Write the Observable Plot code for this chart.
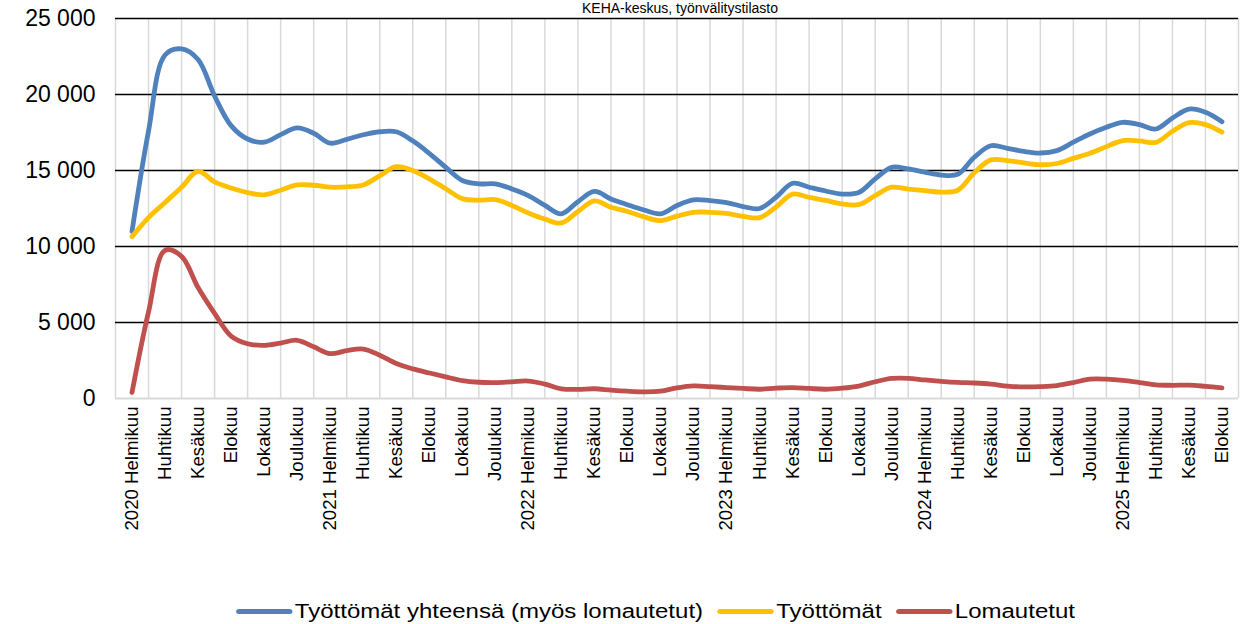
<!DOCTYPE html>
<html><head><meta charset="utf-8">
<script src="https://cdn.jsdelivr.net/npm/d3@7"></script>
<script src="https://cdn.jsdelivr.net/npm/@observablehq/plot@0.6"></script>
<style>
body{margin:0;background:#fff;font-family:"Liberation Sans",Arial,sans-serif;}
#wrap{position:relative;width:1241px;height:624px;overflow:hidden;background:#fff;}
#title{position:absolute;top:0px;left:0;width:1360px;text-align:center;font-size:14px;line-height:16px;color:#000;white-space:nowrap;}
#chart{position:absolute;top:0;left:0;}
#legend{position:absolute;top:596px;left:35px;width:1241px;height:30px;display:flex;justify-content:center;align-items:center;transform:scaleX(1.2);transform-origin:center;font-size:20px;color:#000;white-space:nowrap;}
.item{display:flex;align-items:center;margin:0 6px;}
.sw{width:47px;height:5px;border-radius:3px;margin-right:2px;}
</style>
</head><body>
<div id="wrap">
<div id="chart"></div>
<div id="title">KEHA-keskus, työnvälitystilasto</div>
<div id="legend"></div>
</div>
<script>
// Monthly values, Feb 2020 – Aug 2025 (one array per year)
const yhteensa2020 = [11000, 17600, 22600, 23000, 22300, 19900, 17950, 17070, 16860, 17360, 17800];
const yhteensa2021 = [17450, 16800, 17050, 17350, 17550, 17550, 16950, 16130, 15210, 14340, 14120, 14120];
const yhteensa2022 = [13790, 13350, 12700, 12150, 12950, 13620, 13130, 12750, 12400, 12150, 12700, 13070];
const yhteensa2023 = [13020, 12890, 12630, 12500, 13240, 14160, 13900, 13650, 13450, 13550, 14450, 15210];
const yhteensa2024 = [15100, 14890, 14700, 14750, 15870, 16630, 16460, 16260, 16150, 16310, 16860, 17400];
const yhteensa2025 = [17840, 18170, 18020, 17730, 18450, 19040, 18830, 18210];

const tyottomat2020 = [10650, 11900, 12900, 13900, 14950, 14250, 13850, 13550, 13400, 13700, 14050];
const tyottomat2021 = [14030, 13900, 13920, 14050, 14650, 15250, 15000, 14450, 13800, 13150, 13050, 13080];
const tyottomat2022 = [12700, 12200, 11800, 11550, 12300, 13000, 12580, 12300, 11950, 11700, 12000, 12250];
const tyottomat2023 = [12250, 12180, 11980, 11900, 12600, 13450, 13230, 13030, 12800, 12750, 13350, 13900];
const tyottomat2024 = [13780, 13670, 13580, 13700, 14850, 15700, 15650, 15500, 15380, 15460, 15800, 16130];
const tyottomat2025 = [16570, 16970, 16950, 16850, 17580, 18150, 18020, 17520];

const lomautetut2020 = [400, 5700, 9750, 9350, 7300, 5600, 4100, 3600, 3500, 3650, 3830];
const lomautetut2021 = [3400, 2950, 3150, 3250, 2850, 2300, 1950, 1680, 1420, 1180, 1070, 1050];
const lomautetut2022 = [1100, 1150, 950, 640, 600, 640, 550, 480, 440, 480, 700, 830];
const lomautetut2023 = [780, 720, 660, 610, 680, 720, 660, 610, 680, 820, 1100, 1320];
const lomautetut2024 = [1330, 1220, 1130, 1060, 1020, 950, 820, 760, 780, 850, 1050, 1270];
const lomautetut2025 = [1270, 1190, 1050, 900, 870, 880, 800, 700];

const tickLabels = [
  "2020 Helmikuu","Huhtikuu","Kesäkuu","Elokuu","Lokakuu","Joulukuu",
  "2021 Helmikuu","Huhtikuu","Kesäkuu","Elokuu","Lokakuu","Joulukuu",
  "2022 Helmikuu","Huhtikuu","Kesäkuu","Elokuu","Lokakuu","Joulukuu",
  "2023 Helmikuu","Huhtikuu","Kesäkuu","Elokuu","Lokakuu","Joulukuu",
  "2024 Helmikuu","Huhtikuu","Kesäkuu","Elokuu","Lokakuu","Joulukuu",
  "2025 Helmikuu","Huhtikuu","Kesäkuu","Elokuu"
];
const yTicks = [0, 5000, 10000, 15000, 20000, 25000];

const seriesNames = ["Työttömät yhteensä (myös lomautetut)", "Työttömät", "Lomautetut"];
const seriesColors = ["#4F81BD", "#FFC000", "#C0504D"];

const yhteensa = [].concat(yhteensa2020, yhteensa2021, yhteensa2022, yhteensa2023, yhteensa2024, yhteensa2025);
const tyottomat = [].concat(tyottomat2020, tyottomat2021, tyottomat2022, tyottomat2023, tyottomat2024, tyottomat2025);
const lomautetut = [].concat(lomautetut2020, lomautetut2021, lomautetut2022, lomautetut2023, lomautetut2024, lomautetut2025);
const allSeries = [yhteensa, tyottomat, lomautetut];

const months = d3.range(yhteensa.length);           // 0..66
const labelMonths = tickLabels.map((_, i) => i * 2); // every second month
const gridMonths = d3.range(-1, months.length + 1, 2);

const fmt = d => d3.format(",")(d).replace(/,/g, " ");

const lineMarks = allSeries.map((vals, k) =>
  Plot.line(months, {x: d => d, y: d => vals[d], stroke: seriesColors[k], strokeWidth: 4.8, curve: "catmull-rom"})
);

const plot = Plot.plot({
  width: 1241, height: 596,
  marginLeft: 115, marginRight: 3, marginTop: 18, marginBottom: 198,
  x: {type: "linear", domain: [-1, months.length]},
  y: {domain: [0, 25000]},
  style: {fontFamily: "'Liberation Sans', Arial, sans-serif", fontSize: "18.6px", color: "#000", background: "transparent", overflow: "visible"},
  marks: [
    Plot.ruleX(gridMonths, {stroke: "#d9d9d9", strokeWidth: 1.5}),
    Plot.ruleY(yTicks.filter(v => v > 0), {stroke: "#000", strokeWidth: 1.6}),
    Plot.ruleY([0], {stroke: "#d9d9d9", strokeWidth: 2}),
    Plot.axisY(yTicks, {tickSize: 0, tickPadding: 20, fontSize: 23, tickFormat: fmt, label: null}),
    Plot.axisX(labelMonths, {tickSize: 0, tickPadding: 8, tickRotate: -90, fontSize: 18.6, tickFormat: d => tickLabels[d / 2], label: null}),
    ...lineMarks
  ]
});
document.getElementById("chart").appendChild(plot);

const legend = document.getElementById("legend");
seriesNames.forEach((name, k) => {
  const it = document.createElement("div");
  it.className = "item";
  const sw = document.createElement("span");
  sw.className = "sw";
  sw.style.background = seriesColors[k];
  const tx = document.createElement("span");
  tx.textContent = name;
  it.appendChild(sw); it.appendChild(tx);
  legend.appendChild(it);
});
</script>
</body></html>
